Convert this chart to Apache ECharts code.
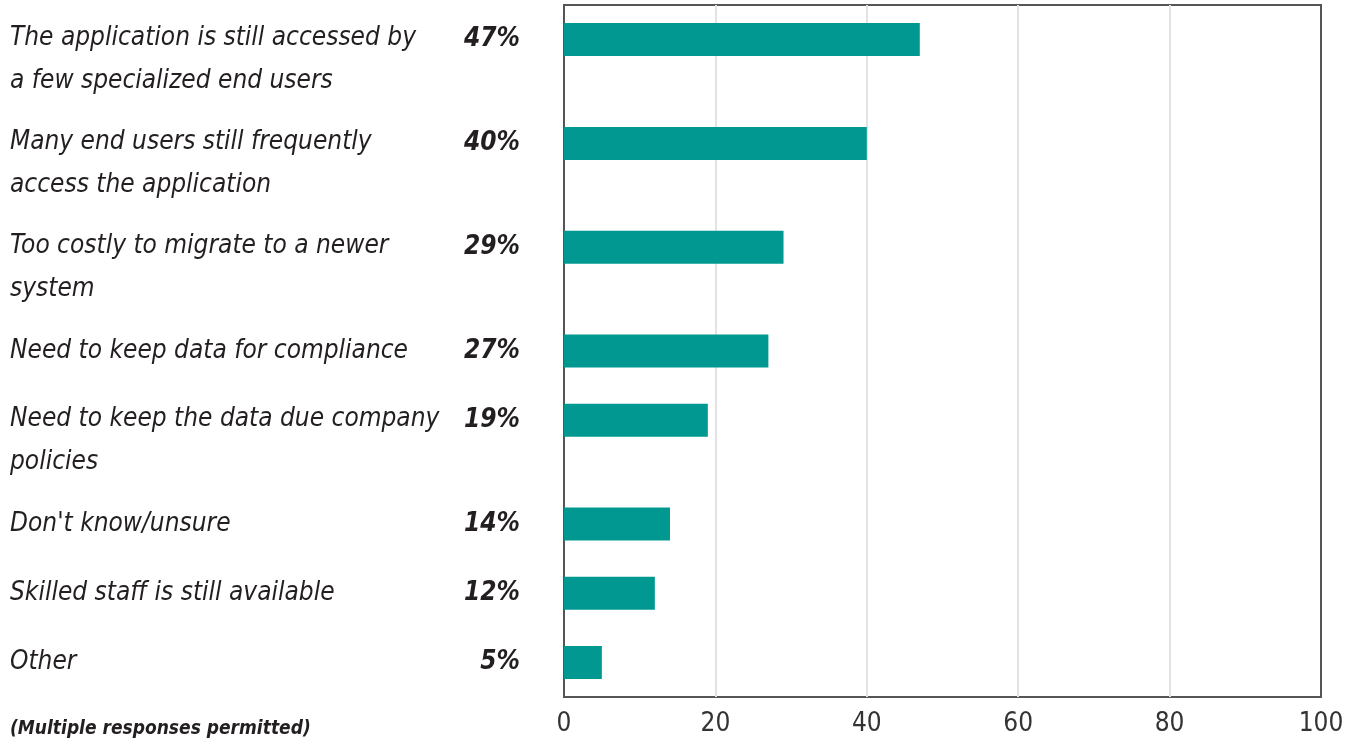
<!DOCTYPE html>
<html>
<head>
<meta charset="utf-8">
<script src="https://cdn.jsdelivr.net/npm/echarts@6/dist/echarts.min.js"></script>
<style>
	html, body { margin: 0; padding: 0; background: #fff; }
	#chart { width: 1347px; height: 743px; }
</style>
</head>
<body>
<div id="chart"></div>
<script>
// labels as they wrap in the original, top to bottom
var reasons = [
	'The application is still accessed by\na few specialized end users',
	'Many end users still frequently\naccess the application',
	'Too costly to migrate to a newer\nsystem',
	'Need to keep data for compliance',
	'Need to keep the data due company\npolicies',
	"Don't know/unsure",
	'Skilled staff is still available',
	'Other'
];
var shares = [47, 40, 29, 27, 19, 14, 12, 5];
var xTicks = [0, 20, 40, 60, 80, 100];

var FONT = '"Liberation Sans Narrow", "DejaVu Sans Condensed", sans-serif';
var INK = '#231f20';

// a two-line label takes a taller row than a single-line one,
// so pad the category axis with empty slots after each answer
var cats = [''], pcts = [''], vals = ['-'];
for (var i = 0; i < reasons.length; i++) {
	cats.push(reasons[i]);
	pcts.push(shares[i] + '%');
	vals.push(shares[i]);
	var pad = reasons[i].indexOf('\n') >= 0 ? 2 : 1;
	for (var k = 0; k < pad; k++) {
		cats.push('');
		pcts.push('');
		vals.push('-');
	}
}

var myChart = echarts.init(document.getElementById('chart'));

var option = {
	animation: false,
	title: {
		text: '(Multiple responses permitted)',
		left: 5,
		top: 715,
		textStyle: {
			fontFamily: FONT,
			fontSize: 19,
			fontWeight: 'bold',
			fontStyle: 'italic',
			color: INK
		}
	},
	grid: {
		show: true,
		left: 564,
		right: 26,
		top: 5,
		bottom: 46,
		borderColor: '#555',
		borderWidth: 2
	},
	xAxis: {
		type: 'value',
		min: xTicks[0],
		max: xTicks[xTicks.length - 1],
		interval: 20,
		axisLine: { show: false },
		axisTick: { show: false },
		axisLabel: {
			margin: 14,
			fontFamily: FONT,
			fontSize: 26,
			color: '#333'
		},
		splitLine: {
			lineStyle: {
				// no light line over the frame at 0 and 100
				color: ['rgba(0,0,0,0)', '#e3e3e3', '#e3e3e3', '#e3e3e3', '#e3e3e3', 'rgba(0,0,0,0)'],
				width: 2
			}
		}
	},
	yAxis: [
		{
			type: 'category',
			data: cats,
			inverse: true,
			boundaryGap: false,
			axisLine: { show: true, lineStyle: { color: '#555', width: 2 } },
			axisTick: { show: false },
			splitLine: { show: false },
			axisLabel: {
				interval: 0,
				hideOverlap: false,
				align: 'left',
				margin: 554,
				formatter: function (v) {
					if (!v) return '';
					var lines = v.split('\n');
					if (lines.length === 1) return '{s|' + v + '}';
					return '{a|' + lines[0] + '}\n{b|' + lines[1] + '}';
				},
				rich: {
					s: { fontFamily: FONT, fontSize: 26, fontStyle: 'italic', color: INK },
					a: { fontFamily: FONT, fontSize: 26, fontStyle: 'italic', color: INK, lineHeight: 84 },
					b: { fontFamily: FONT, fontSize: 26, fontStyle: 'italic', color: INK, lineHeight: 2 }
				}
			}
		},
		{
			type: 'category',
			data: pcts,
			inverse: true,
			boundaryGap: false,
			position: 'left',
			axisLine: { show: false },
			axisTick: { show: false },
			splitLine: { show: false },
			axisLabel: {
				interval: 0,
				hideOverlap: false,
				margin: 44,
				fontFamily: FONT,
				fontSize: 26,
				fontWeight: 'bold',
				fontStyle: 'italic',
				color: INK
			}
		}
	],
	series: [
		{
			type: 'bar',
			yAxisIndex: 0,
			data: vals,
			barWidth: 33,
			itemStyle: { color: '#009891' }
		}
	]
};

myChart.setOption(option);
</script>
</body>
</html>
